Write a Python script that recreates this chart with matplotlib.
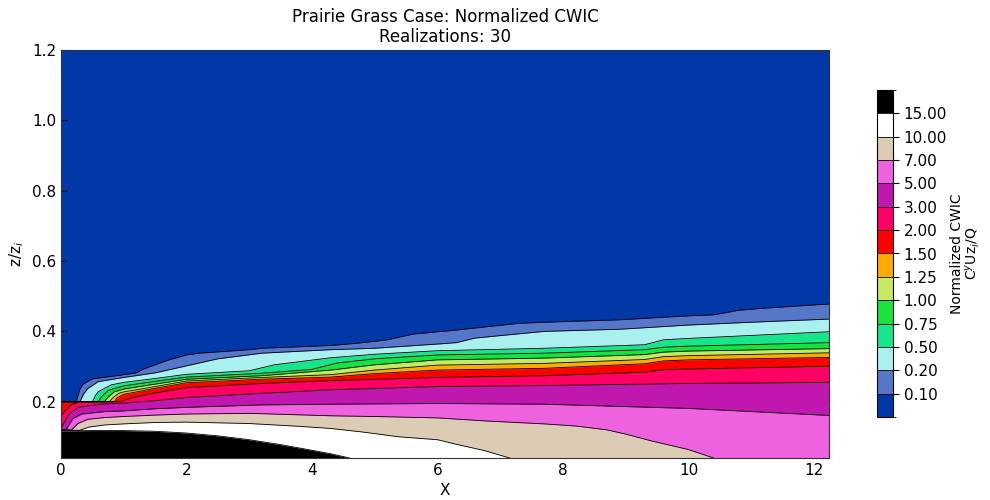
import numpy as np
import matplotlib
matplotlib.use('Agg')
import matplotlib.pyplot as plt
from matplotlib.colors import ListedColormap, BoundaryNorm
from matplotlib.cm import ScalarMappable

levels = [0.10, 0.20, 0.50, 0.75, 1.00, 1.25, 1.50, 2.00, 3.00, 5.00, 7.00, 10.00, 15.00]
colores = ['#0038a8', '#5677c8', '#aaf0ee', '#16e68a', '#18e23c', '#c6e862', '#ffaa00',
           '#ff0000', '#ff0064', '#c018ae', '#ee62e0', '#dccbb5', '#ffffff', '#000000']

# borde superior (x, z/zi) de la zona por encima de cada nivel
x_010 = [0, 0.24, 0.30, 0.35, 0.5, 0.8, 1.0, 1.2, 1.3, 1.7, 2.0, 2.2, 3.0, 3.2, 4.3, 4.7, 5.2, 5.6, 6.0, 6.2, 7.3, 7.7, 8.9, 9.97, 10.4, 10.8, 11.2, 12.24]
z_010 = [0.200, 0.200, 0.235, 0.250, 0.265, 0.272, 0.277, 0.282, 0.292, 0.318, 0.333, 0.338, 0.348, 0.352, 0.360, 0.366, 0.376, 0.392, 0.399, 0.402, 0.423, 0.426, 0.433, 0.444, 0.447, 0.460, 0.466, 0.478]

x_020 = [0, 0.30, 0.36, 0.43, 0.59, 1.0, 1.5, 2.0, 2.5, 3.2, 4.3, 5.0, 6.0, 6.3, 6.6, 7.0, 7.7, 8.9, 10.0, 11.0, 12.24]
z_020 = [0.200, 0.200, 0.222, 0.238, 0.257, 0.269, 0.282, 0.302, 0.322, 0.338, 0.348, 0.352, 0.364, 0.368, 0.381, 0.388, 0.400, 0.406, 0.418, 0.426, 0.435]

x_050 = [0, 0.50, 0.55, 0.6, 0.8, 1.0, 1.5, 2.0, 3.0, 3.4, 4.3, 5.0, 6.0, 7.7, 9.3, 9.6, 10.0, 12.24]
z_050 = [0.200, 0.200, 0.218, 0.229, 0.248, 0.255, 0.266, 0.278, 0.288, 0.305, 0.325, 0.335, 0.345, 0.352, 0.362, 0.376, 0.380, 0.399]

x_075 = [0, 0.59, 0.65, 0.75, 1.0, 1.5, 2.0, 3.2, 4.0, 4.4, 5.0, 6.0, 7.7, 9.3, 9.6, 10.0, 12.24]
z_075 = [0.200, 0.200, 0.215, 0.232, 0.245, 0.258, 0.270, 0.281, 0.292, 0.310, 0.322, 0.333, 0.338, 0.348, 0.355, 0.358, 0.368]

x_100 = [0, 0.69, 0.75, 0.85, 1.0, 1.5, 2.0, 3.2, 4.3, 5.0, 6.0, 7.7, 9.3, 9.6, 10.0, 12.24]
z_100 = [0.200, 0.200, 0.213, 0.228, 0.236, 0.250, 0.264, 0.274, 0.290, 0.305, 0.319, 0.324, 0.334, 0.341, 0.344, 0.351]

x_125 = [0, 0.77, 0.83, 0.92, 1.0, 1.5, 2.0, 3.2, 4.3, 5.0, 6.0, 7.7, 9.3, 9.6, 10.0, 12.24]
z_125 = [0.200, 0.200, 0.212, 0.224, 0.228, 0.243, 0.259, 0.269, 0.277, 0.290, 0.304, 0.309, 0.320, 0.328, 0.331, 0.339]

x_150 = [0, 0.85, 0.9, 1.0, 1.5, 2.0, 3.2, 4.3, 5.0, 6.0, 7.7, 9.3, 9.6, 10.0, 12.24]
z_150 = [0.200, 0.200, 0.212, 0.221, 0.238, 0.254, 0.264, 0.270, 0.280, 0.290, 0.295, 0.308, 0.316, 0.319, 0.326]

x_200 = [0, 0.15, 0.3, 0.95, 1.05, 1.2, 1.5, 2.0, 3.2, 4.3, 6.0, 7.7, 9.3, 9.6, 10.0, 12.24]
z_200 = [0.160, 0.190, 0.200, 0.200, 0.207, 0.214, 0.225, 0.240, 0.252, 0.260, 0.269, 0.274, 0.284, 0.291, 0.293, 0.301]

x_300 = [0, 0.05, 0.14, 0.27, 0.5, 0.7, 1.0, 1.5, 2.0, 3.2, 4.3, 6.0, 7.7, 10.0, 12.24]
z_300 = [0.125, 0.140, 0.167, 0.184, 0.190, 0.194, 0.196, 0.203, 0.212, 0.224, 0.234, 0.243, 0.246, 0.252, 0.255]

x_500 = [0, 0.08, 0.19, 0.33, 0.7, 1.0, 1.5, 2.0, 3.2, 4.3, 6.0, 7.7, 10.0, 12.24]
z_500 = [0.120, 0.120, 0.152, 0.165, 0.172, 0.174, 0.180, 0.184, 0.191, 0.193, 0.195, 0.193, 0.181, 0.161]

x_700 = [0, 0.17, 0.27, 0.43, 0.7, 1.0, 1.5, 2.0, 3.0, 4.3, 5.0, 6.0, 6.8, 7.7, 8.2, 8.7, 9.0, 9.4, 10.0, 10.4]
z_700 = [0.120, 0.120, 0.138, 0.150, 0.155, 0.158, 0.162, 0.165, 0.167, 0.160, 0.158, 0.154, 0.145, 0.137, 0.131, 0.120, 0.108, 0.089, 0.064, 0.040]

x_1000 = [0, 0.3, 0.45, 0.7, 1.0, 1.5, 2.0, 3.0, 3.8, 4.3, 4.8, 5.4, 6.0, 6.3, 6.75, 7.15]
z_1000 = [0.118, 0.119, 0.128, 0.134, 0.137, 0.141, 0.142, 0.138, 0.130, 0.124, 0.114, 0.100, 0.092, 0.079, 0.061, 0.040]

x_1500 = [0, 0.5, 1.0, 1.5, 2.0, 2.5, 3.0, 3.5, 4.0, 4.3, 4.6]
z_1500 = [0.117, 0.118, 0.118, 0.116, 0.111, 0.103, 0.092, 0.078, 0.062, 0.052, 0.040]

bordes = [(x_010, z_010), (x_020, z_020), (x_050, z_050), (x_075, z_075), (x_100, z_100),
          (x_125, z_125), (x_150, z_150), (x_200, z_200), (x_300, z_300), (x_500, z_500),
          (x_700, z_700), (x_1000, z_1000), (x_1500, z_1500)]

z_min = 0.04

fig = plt.figure(figsize=(9.9, 5.0), dpi=100)
ax = fig.add_axes([0.0616, 0.084, 0.7758, 0.816])
ax.set_facecolor(colores[0])

for i, (xs, zs) in enumerate(bordes):
    ax.fill_between(xs, z_min, zs, color=colores[i + 1], lw=0, zorder=2 + i)
for i, (xs, zs) in enumerate(bordes):
    ax.plot(xs, zs, color='k', lw=0.6, zorder=20)

ax.set_xlim(0, 12.24)
ax.set_ylim(z_min, 1.2)
ax.set_yticks([0.2, 0.4, 0.6, 0.8, 1.0, 1.2])
ax.set_xticks([0, 2, 4, 6, 8, 10, 12])
ax.tick_params(direction='in', length=4, labelsize=11, top=False, right=False)
for s in ax.spines.values():
    s.set_color('#333333')
    s.set_zorder(30)
ax.set_xlabel('X', fontsize=11)
ax.set_ylabel('z/z$_i$', fontsize=11)
ax.set_title('Prairie Grass Case: Normalized CWIC\nRealizations: 30', fontsize=12, linespacing=1.1)

bounds = [0.0] + levels + [20.0]
cmap = ListedColormap(colores)
norm = BoundaryNorm(bounds, cmap.N)
cax = fig.add_axes([0.886, 0.166, 0.0162, 0.654])
sm = ScalarMappable(norm=norm, cmap=cmap)
cb = fig.colorbar(sm, cax=cax, boundaries=bounds, ticks=levels, spacing='uniform', drawedges=True)
cb.ax.set_yticklabels(['%.2f' % v for v in levels])
cb.ax.tick_params(labelsize=11, length=4)
cb.dividers.set_linewidth(0.6)
cb.outline.set_linewidth(0.8)
cb.set_label('Normalized CWIC\nC$^y$Uz$_i$/Q', fontsize=10, labelpad=2, linespacing=1.0)

fig.savefig('out.png', dpi=100)
